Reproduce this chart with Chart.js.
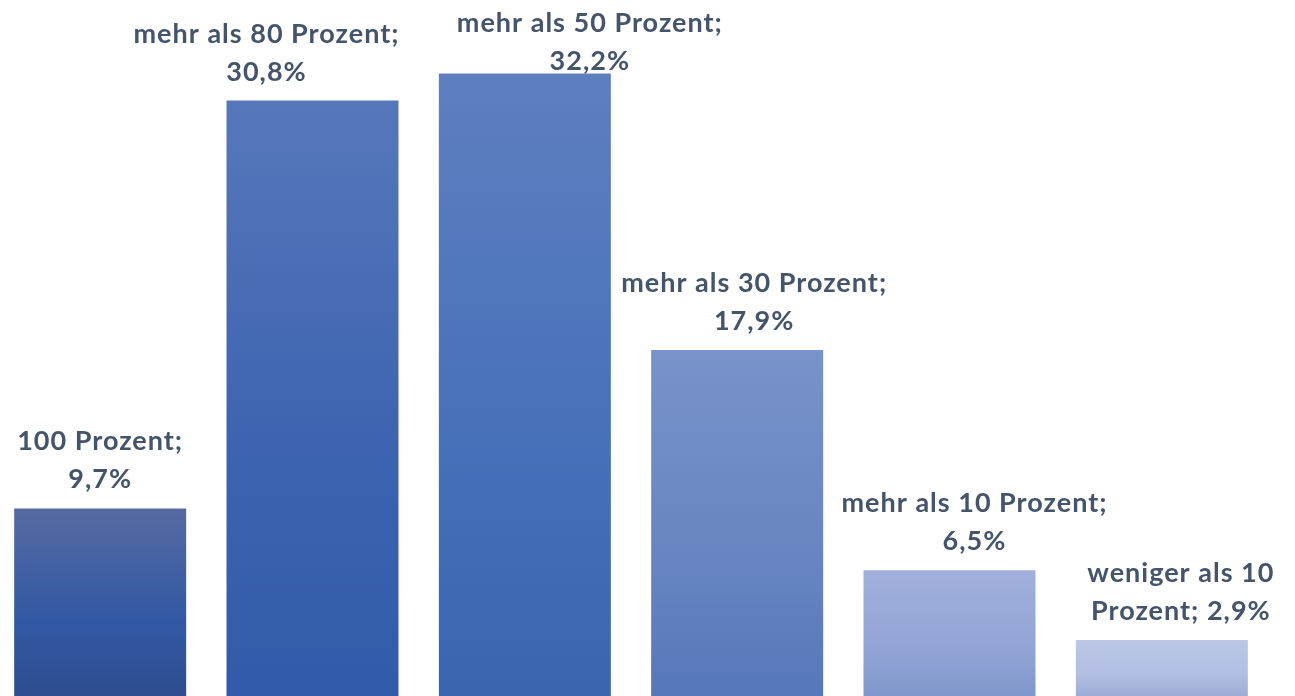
<!DOCTYPE html>
<html>
<head>
<meta charset="utf-8">
<script src="https://cdn.jsdelivr.net/npm/chart.js@4"></script>
<style>
  html, body { margin: 0; padding: 0; background: #fff; overflow: hidden; }
  #wrap { position: absolute; left: -6px; top: 0; width: 1301px; height: 696px; }
</style>
</head>
<body>
<div id="wrap"><canvas id="anteilChart" width="1301" height="696"></canvas></div>
<script>
  var categories = ["100 Prozent", "mehr als 80 Prozent", "mehr als 50 Prozent",
                    "mehr als 30 Prozent", "mehr als 10 Prozent", "weniger als 10 Prozent"];
  var values = [9.7, 30.8, 32.2, 17.9, 6.5, 2.9];
  var yMax = 36;

  // label text lines, the way Excel wrapped them
  var labelLines = [
    ["100 Prozent;", "9,7%"],
    ["mehr als 80 Prozent;", "30,8%"],
    ["mehr als 50 Prozent;", "32,2%"],
    ["mehr als 30 Prozent;", "17,9%"],
    ["mehr als 10 Prozent;", "6,5%"],
    ["weniger als 10", "Prozent; 2,9%"]
  ];
  // labels were nudged sideways by hand in the original
  var labelShift = [0, -46, 65, 17, 25, 19];

  // gradient stops per bar: top, middle, bottom
  var barColors = [
    ["#566AA2", "#3159A3", "#2F4D90"],
    ["#5677BA", "#3C63B0", "#315BAA"],
    ["#5E7FC0", "#4670B8", "#3A65AF"],
    ["#7893CA", "#6884C2", "#5677B8"],
    ["#A1B0DC", "#93A5D6", "#8097CB"],
    ["#BCC7E6", "#B2BFE2", "#9EADD6"]
  ];

  function barGradient(ctx) {
    var chart = ctx.chart;
    var c = barColors[ctx.dataIndex] || barColors[0];
    var y = chart.scales.y;
    if (!chart.chartArea || !y) return c[1];
    var top = y.getPixelForValue(values[ctx.dataIndex]);
    var bottom = y.getPixelForValue(0);
    var g = chart.ctx.createLinearGradient(0, top, 0, bottom);
    g.addColorStop(0, c[0]);
    g.addColorStop(0.6, c[1]);
    g.addColorStop(1, c[2]);
    return g;
  }

  // draws the value labels above the bars
  var barLabels = {
    id: "barLabels",
    afterDatasetsDraw: function (chart) {
      var ctx = chart.ctx;
      var meta = chart.getDatasetMeta(0);
      var lineH = 38, gap = 20, minFirst = 32;
      ctx.save();
      ctx.font = "bold 27px Lato";
      if ("letterSpacing" in ctx) ctx.letterSpacing = "1px";
      ctx.fillStyle = "#44546A";
      ctx.textAlign = "center";
      ctx.textBaseline = "alphabetic";
      meta.data.forEach(function (bar, i) {
        var lines = labelLines[i];
        var last = bar.y - gap;
        var first = last - lineH * (lines.length - 1);
        if (first < minFirst) first = minFirst;
        lines.forEach(function (t, k) {
          ctx.fillText(t, bar.x + labelShift[i], first + k * lineH);
        });
      });
      ctx.restore();
    }
  };

  var data = {
    labels: categories,
    datasets: [
      {
        data: values,
        backgroundColor: barGradient,
        borderWidth: 0,
        barPercentage: 0.81,
        categoryPercentage: 1.0,
      },
    ],
  };

  var options = {
    responsive: false,
    animation: false,
    layout: { padding: { left: 0, right: 27, top: 0, bottom: 0 } },
    plugins: {
      legend: { display: false },
      tooltip: { enabled: false },
    },
    scales: {
      x: { display: false, grid: { display: false } },
      y: { display: false, min: 0, max: yMax, grid: { display: false } },
    },
  };

  var anteilChart = new Chart(document.getElementById("anteilChart"), {
    type: "bar",
    data: data,
    options: options,
    plugins: [barLabels],
  });
</script>
</body>
</html>
